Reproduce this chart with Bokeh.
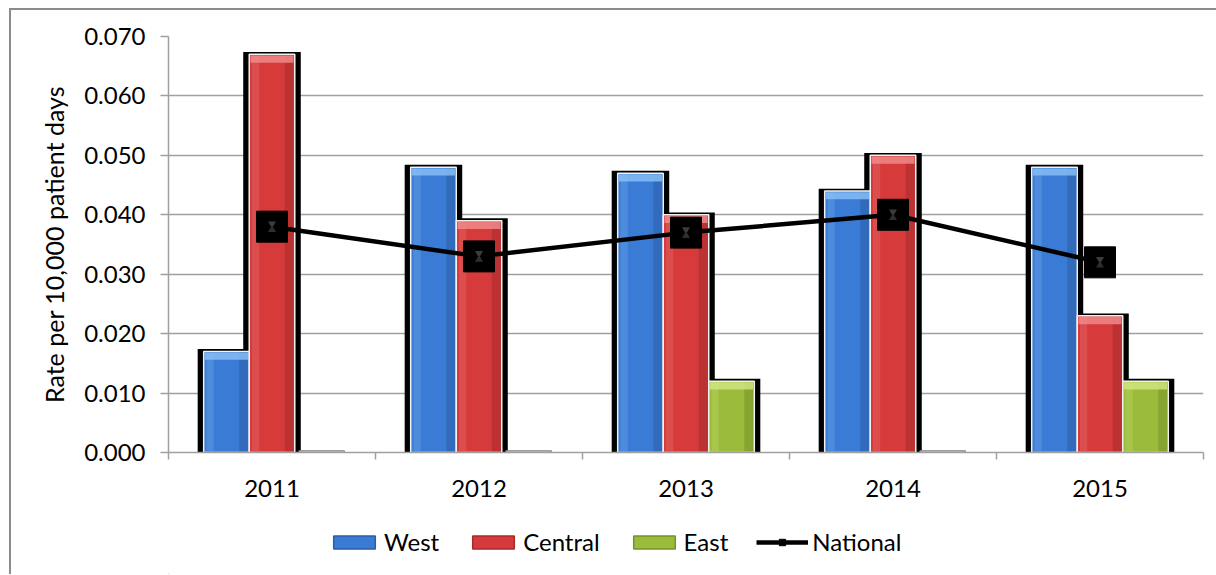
import numpy as np
from bokeh.plotting import figure
from bokeh.layouts import column
from bokeh.models import Range1d, FixedTicker, Legend, LegendItem, NumeralTickFormatter
from bokeh.embed import file_html
from bokeh.resources import INLINE

years = ["2011", "2012", "2013", "2014", "2015"]
west = [0.017, 0.048, 0.047, 0.044, 0.048]
central = [0.067, 0.039, 0.040, 0.050, 0.023]
east = [0.0, 0.0, 0.012, 0.0, 0.012]
national = [0.038, 0.033, 0.037, 0.040, 0.032]
y_ticks = [0.0, 0.01, 0.02, 0.03, 0.04, 0.05, 0.06, 0.07]

FONT = "Lato"
n = len(years)
xc = np.arange(n) + 0.5
bw = 0.22
offsets = [-0.22, 0.0, 0.22]
series = [
    ("West", west, "#3a7bd5", "#2b5ea8", "#86bdf3"),
    ("Central", central, "#d63a3a", "#a82b2b", "#f08a8a"),
    ("East", east, "#9bbb3b", "#76922a", "#cfe57f"),
]
BORDER = "2px solid #8c8c8c"

p = figure(frame_width=1033, frame_height=414,
           min_border_left=157, min_border_top=26, min_border_right=17, min_border_bottom=59,
           x_range=Range1d(0, n), y_range=Range1d(0, 0.07),
           output_backend="svg", toolbar_location=None)
p.margin = (8, 0, 0, 9)
p.styles = {"border-left": BORDER, "border-top": BORDER}
p.outline_line_color = None
p.background_fill_color = "white"
p.border_fill_color = "white"

# grid
p.xgrid.grid_line_color = None
p.ygrid.grid_line_color = "#a0a0a0"
p.ygrid.grid_line_width = 1.5
p.ygrid.ticker = FixedTicker(ticks=y_ticks)

# y axis
p.yaxis.ticker = FixedTicker(ticks=y_ticks)
p.yaxis.formatter = NumeralTickFormatter(format="0.000")
p.yaxis.axis_label = "Rate per 10,000 patient days"
p.yaxis.axis_label_text_font = FONT
p.yaxis.axis_label_text_font_size = "25px"
p.yaxis.axis_label_text_font_style = "normal"
p.yaxis.axis_label_text_color = "black"
p.yaxis.axis_label_standoff = 12
p.yaxis.major_label_text_font = FONT
p.yaxis.major_label_text_font_size = "24px"
p.yaxis.major_label_text_color = "black"
p.yaxis.major_label_standoff = 15
p.yaxis.axis_line_color = "#a0a0a0"
p.yaxis.axis_line_width = 1.5
p.yaxis.major_tick_line_color = "#a0a0a0"
p.yaxis.major_tick_line_width = 1.5
p.yaxis.major_tick_out = 8
p.yaxis.major_tick_in = 0
p.yaxis.minor_tick_line_color = None

# x axis
p.xaxis.ticker = FixedTicker(ticks=list(xc), minor_ticks=list(range(n + 1)))
p.xaxis.major_label_overrides = {float(x): y for x, y in zip(xc, years)}
p.xaxis.major_label_text_font = FONT
p.xaxis.major_label_text_font_size = "24px"
p.xaxis.major_label_text_color = "black"
p.xaxis.major_label_standoff = 20
p.xaxis.major_tick_line_color = None
p.xaxis.major_tick_out = 0
p.xaxis.major_tick_in = 0
p.xaxis.minor_tick_line_color = "#a0a0a0"
p.xaxis.minor_tick_line_width = 1.5
p.xaxis.minor_tick_out = 7
p.xaxis.minor_tick_in = 0
p.xaxis.axis_line_color = "#a0a0a0"
p.xaxis.axis_line_width = 1.5

# shadows first
for (name, vals, c, dark, light), off in zip(series, offsets):
    tops = np.array(vals)
    sx = xc + off
    nz = tops > 0
    p.vbar(x=sx[nz], top=tops[nz] + 0.0004, bottom=0, width=bw + 0.058,
           fill_color="black", line_color=None)
    if (~nz).any():
        p.vbar(x=sx[~nz] + 0.02, top=0.0003, bottom=0, width=bw,
               fill_color="#bbbbbb", line_color="#888888", line_width=1)

for (name, vals, c, dark, light), off in zip(series, offsets):
    tops = np.array(vals)
    sx = xc + off
    nz = tops > 0
    p.vbar(x=sx[nz], top=tops[nz], bottom=0, width=bw,
           fill_color=c, line_color="#f2f2f2", line_width=1.5)
    p.vbar(x=sx[nz] + bw * 0.38, top=tops[nz] - 0.0002, bottom=0.0002, width=bw * 0.2,
           fill_color=dark, fill_alpha=0.55, line_color=None)
    p.vbar(x=sx[nz] - bw * 0.36, top=tops[nz] - 0.0002, bottom=0.0002, width=bw * 0.16,
           fill_color=light, fill_alpha=0.25, line_color=None)
    p.quad(left=sx[nz] - bw / 2 + 0.006, right=sx[nz] + bw / 2 - 0.006,
           top=tops[nz] - 0.0002, bottom=tops[nz] - 0.0014,
           fill_color=light, fill_alpha=0.85, line_color=None)

# national line
p.line(xc, national, line_color="black", line_width=4.5)
p.scatter(xc, national, marker="square", size=31, fill_color="black", line_color="black")
p.scatter(xc, np.array(national) + 0.0005, marker="inverted_triangle", size=8,
          fill_color="#3c3c3c", line_color=None)
p.scatter(xc, np.array(national) - 0.0005, marker="triangle", size=8,
          fill_color="#2e2e2e", line_color=None)

# legend strip (separate figure below the chart; its frame aligns with the chart's frame)
lg = figure(width=1207, height=65, min_border=0, x_range=Range1d(0, 1), y_range=Range1d(0, 1),
            output_backend="svg", toolbar_location=None)
lg.margin = (0, 0, 0, 9)
lg.styles = {"border-left": BORDER}
lg.axis.visible = False
lg.grid.grid_line_color = None
lg.outline_line_color = None
lg.border_fill_color = "white"

# proxy glyphs placed outside the visible range, only for the legend swatches
items = []
for name, vals, c, dark, light in series:
    r = lg.vbar(x=[-5], top=[-5], bottom=-6, width=0.1, fill_color=c, line_color=dark, line_width=1.5)
    items.append(LegendItem(label=name, renderers=[r]))
rl = lg.line(x=[-5, -4], y=[-5, -5], line_color="black", line_width=4.5)
rs = lg.scatter(x=[-5], y=[-5], marker="square", size=16, fill_color="black", line_color="black")
items.append(LegendItem(label="National", renderers=[rl, rs]))

legend = Legend(items=items, orientation="horizontal", location=(160, 18),
                label_text_font=FONT, label_text_font_size="24px", label_text_color="black",
                glyph_width=52, glyph_height=16, spacing=28, label_standoff=4,
                border_line_color=None, background_fill_alpha=0, padding=2, margin=0)
lg.add_layout(legend, "center")

layout = column(p, lg, spacing=0)
open("out.html", "w").write(file_html(layout, INLINE))
